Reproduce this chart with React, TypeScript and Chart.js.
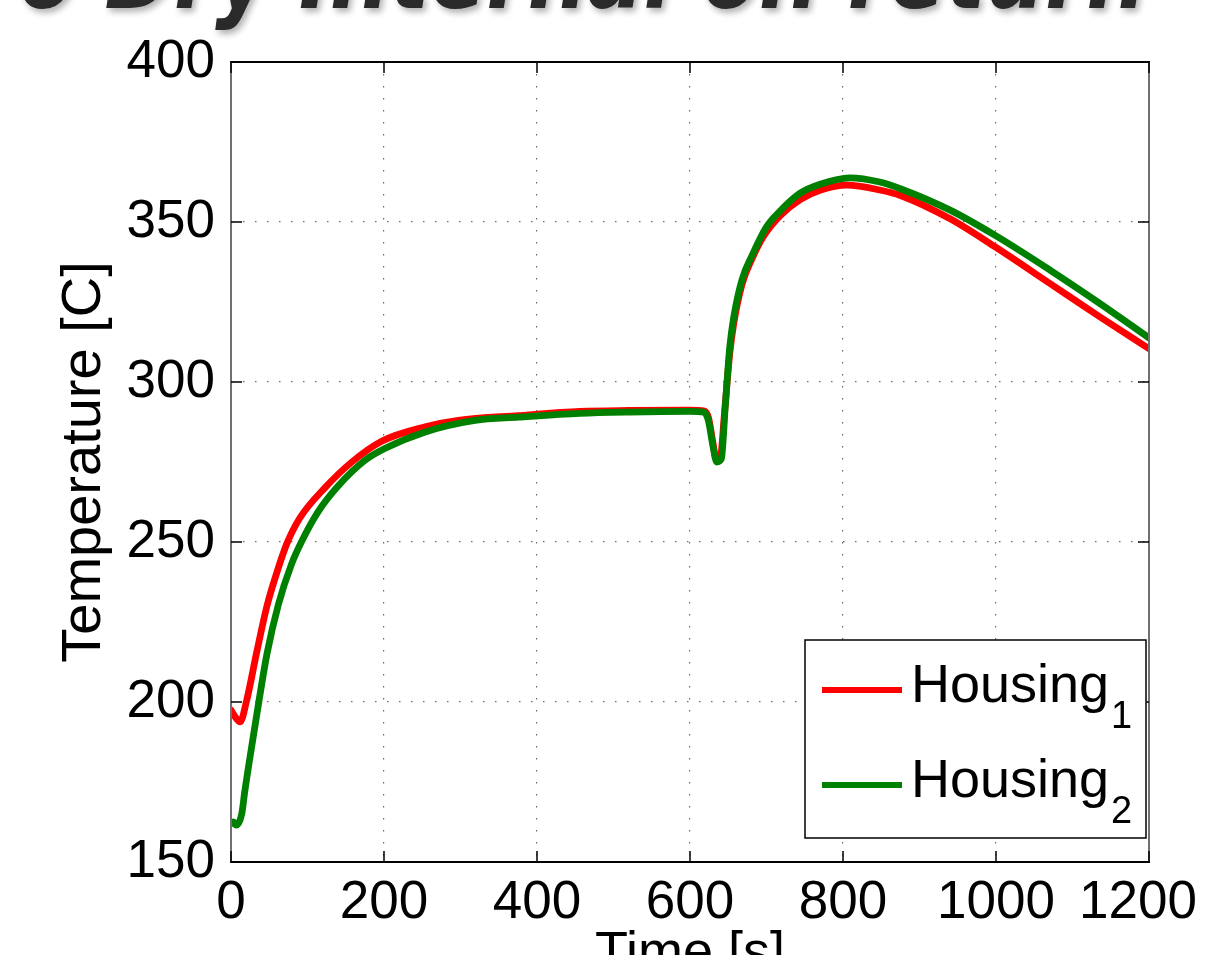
import React, { useEffect, useRef } from 'react';
import { Chart, registerables } from 'chart.js';

Chart.register(...registerables);

// ---- data ----
const timeH1 = [0, 5, 12, 20, 34, 47, 62, 73, 90, 123, 158, 197, 254, 297, 376, 456, 520, 600, 618, 624, 630, 634, 640, 645, 652, 657, 668, 681, 696, 718, 744, 770, 805, 848, 875, 940, 999, 1071, 1136, 1200];
const tempH1 = [197.5, 195.5, 193.8, 200, 216, 230, 242, 249.5, 257.5, 267, 275, 281.5, 286, 288, 289.5, 290.8, 291.1, 291.2, 291, 289, 281, 276, 277, 290, 309, 318, 330.5, 338.5, 345.5, 352, 357, 359.9, 361.5, 360, 358.3, 351, 342.2, 330.7, 320.3, 310.4];

const timeH2 = [0, 3, 7, 14, 18, 27, 36, 47, 62, 79, 92, 114, 140, 175, 201, 254, 319, 376, 456, 520, 600, 618, 624, 630, 635, 641, 646, 652, 657, 668, 681, 700, 718, 744, 770, 809, 848, 875, 940, 999, 1071, 1136, 1200];
const tempH2 = [162, 162.5, 161.5, 165, 172, 186, 199.5, 215, 230.5, 243, 250, 259.5, 267.5, 275.5, 279.2, 284.4, 288, 289, 290.2, 290.6, 290.8, 290.6, 288, 280, 275, 276, 292, 311, 320, 332, 339.5, 348.5, 353.5, 359, 361.8, 363.8, 362.5, 360.4, 353.7, 345.8, 334.9, 324.5, 313.8];

const xTicks = [0, 200, 400, 600, 800, 1000, 1200];
const yTicks = [150, 200, 250, 300, 350, 400];
const seriesNames = ['Housing', 'Housing'];
const seriesSubs = ['1', '2'];
const seriesColors = ['#ff0000', '#008000'];
const xTitle = 'Time [s]';
const yTitle = 'Temperature [C]';
const pageTitle = 'o Dry Internal on return';

const FONT = '"Liberation Sans", Arial, Helvetica, sans-serif';

const decorPlugin = {
  id: 'matlabDecor',
  afterDraw(chart: any) {
    const ctx: CanvasRenderingContext2D = chart.ctx;
    const { left, right, top, bottom } = chart.chartArea;
    const xs = chart.scales.x;
    const ys = chart.scales.y;
    ctx.save();

    // box
    ctx.lineCap = 'butt';
    ctx.strokeStyle = '#000';
    ctx.lineWidth = 2;
    ctx.beginPath();
    ctx.moveTo(left - 1, top); ctx.lineTo(right + 1, top);
    ctx.moveTo(left - 1, bottom); ctx.lineTo(right + 1, bottom);
    ctx.stroke();
    ctx.strokeStyle = '#707070';
    ctx.beginPath();
    ctx.moveTo(left, top); ctx.lineTo(left, bottom);
    ctx.moveTo(right, top); ctx.lineTo(right, bottom);
    ctx.stroke();

    // inward ticks
    ctx.strokeStyle = '#000';
    ctx.lineWidth = 1.5;
    ctx.beginPath();
    xs.ticks.forEach((t: any, i: number) => {
      const px = xs.getPixelForTick(i);
      ctx.moveTo(px, bottom); ctx.lineTo(px, bottom - 11);
      ctx.moveTo(px, top); ctx.lineTo(px, top + 11);
    });
    ys.ticks.forEach((t: any, i: number) => {
      const py = ys.getPixelForTick(i);
      ctx.moveTo(left, py); ctx.lineTo(left + 11, py);
      ctx.moveTo(right, py); ctx.lineTo(right - 11, py);
    });
    ctx.stroke();

    // x tick labels
    ctx.fillStyle = '#000';
    ctx.font = `53px ${FONT}`;
    ctx.textAlign = 'center';
    ctx.textBaseline = 'alphabetic';
    xs.ticks.forEach((t: any, i: number) => {
      const label = String(t.value);
      const w = ctx.measureText(label).width;
      let px = xs.getPixelForTick(i);
      px = Math.min(px, 1197 - w / 2);
      ctx.fillText(label, px, 918);
    });

    // axis titles
    ctx.font = `54px ${FONT}`;
    ctx.fillText(xTitle, (left + right) / 2, 969);
    ctx.save();
    ctx.translate(100, (top + bottom) / 2);
    ctx.rotate(-Math.PI / 2);
    ctx.font = `56px ${FONT}`;
    ctx.fillText(yTitle, 0, 0);
    ctx.restore();

    // legend
    const lx0 = 805, ly0 = 640, lx1 = 1146, ly1 = 838;
    ctx.fillStyle = '#fff';
    ctx.fillRect(lx0, ly0, lx1 - lx0, ly1 - ly0);
    ctx.strokeStyle = '#000';
    ctx.lineWidth = 1.5;
    ctx.strokeRect(lx0, ly0, lx1 - lx0, ly1 - ly0);
    const rowY = [690, 785];
    seriesNames.forEach((name, i) => {
      const y = rowY[i];
      ctx.strokeStyle = seriesColors[i];
      ctx.lineWidth = 6;
      ctx.beginPath();
      ctx.moveTo(822, y); ctx.lineTo(902, y);
      ctx.stroke();
      ctx.fillStyle = '#000';
      ctx.textAlign = 'left';
      ctx.font = `54px ${FONT}`;
      ctx.fillText(name, 911, y + 12);
      const w = ctx.measureText(name).width;
      ctx.font = `38px ${FONT}`;
      ctx.fillText(seriesSubs[i], 911 + w + 2, y + 38);
    });

    // cropped page title (only its lower edge is inside the picture)
    ctx.save();
    ctx.font = `italic bold 104px "DejaVu Sans", ${FONT}`;
    ctx.fillStyle = '#2a2a2a';
    ctx.shadowColor = 'rgba(0,0,0,0.3)';
    ctx.shadowBlur = 6;
    ctx.shadowOffsetX = 3;
    ctx.shadowOffsetY = 4;
    ctx.textAlign = 'left';
    ctx.fillText(pageTitle, 18, 8, 1128);
    ctx.restore();

    ctx.restore();
  },
};

export default function App() {
  const ref = useRef<HTMLCanvasElement | null>(null);
  useEffect(() => {
    if (!ref.current) return;
    const ds = [
      { label: seriesNames[0] + seriesSubs[0], data: timeH1.map((t, i) => ({ x: t, y: tempH1[i] })), color: seriesColors[0], order: 1 },
      { label: seriesNames[1] + seriesSubs[1], data: timeH2.map((t, i) => ({ x: t, y: tempH2[i] })), color: seriesColors[1], order: 0 },
    ];
    const chart = new Chart(ref.current, {
      type: 'line',
      data: {
        datasets: ds.map((d) => ({
          label: d.label,
          data: d.data,
          borderColor: d.color,
          backgroundColor: d.color,
          borderWidth: 6.8,
          pointRadius: 0,
          cubicInterpolationMode: 'monotone',
          borderJoinStyle: 'round',
          borderCapStyle: 'round',
          fill: false,
          order: d.order,
        })),
      },
      options: {
        animation: false,
        responsive: false,
        maintainAspectRatio: false,
        layout: { padding: { top: 62, right: 60, bottom: 0, left: 0 } },
        plugins: {
          legend: { display: false },
          tooltip: { enabled: false },
          title: { display: false },
        },
        scales: {
          x: {
            type: 'linear',
            min: 0,
            max: 1200,
            afterBuildTicks: (scale: any) => {
              scale.ticks = xTicks.map((v) => ({ value: v }));
            },
            afterFit: (scale: any) => {
              scale.height = 93;
              scale.paddingLeft = 0;
              scale.paddingRight = 0;
            },
            ticks: { display: false },
            grid: { color: '#6a6a6a', lineWidth: 1.2, drawTicks: false },
            border: { display: false, dash: [1.5, 10.5] },
          },
          y: {
            type: 'linear',
            min: 150,
            max: 400,
            afterBuildTicks: (scale: any) => {
              scale.ticks = yTicks.map((v) => ({ value: v }));
            },
            afterFit: (scale: any) => {
              scale.width = 231;
              scale.paddingTop = 0;
              scale.paddingBottom = 0;
            },
            ticks: {
              color: '#000',
              font: { size: 53, family: FONT },
              padding: 16,
            },
            grid: { color: '#6a6a6a', lineWidth: 1.2, drawTicks: false },
            border: { display: false, dash: [1.5, 10.5] },
          },
        },
      } as any,
      plugins: [decorPlugin],
    });
    return () => chart.destroy();
  }, []);
  return (
    <div style={{ position: 'absolute', left: 0, top: 0, width: 1209, height: 955, background: '#fff' }}>
      <canvas ref={ref} width={1209} height={955} style={{ display: 'block', width: 1209, height: 955 }} />
    </div>
  );
}
